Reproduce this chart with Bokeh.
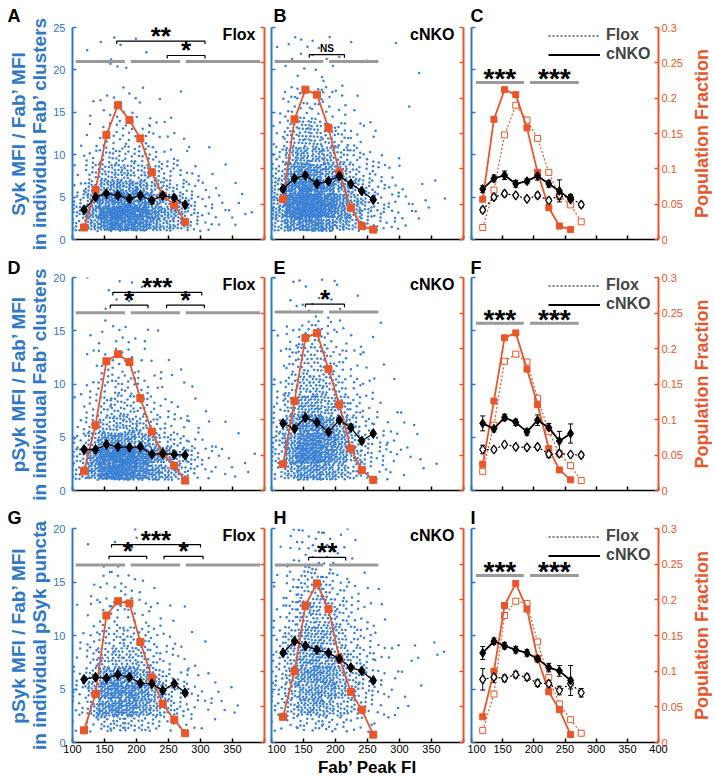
import math
from bokeh.plotting import figure
from bokeh.models import (Range1d, LinearAxis, FixedTicker, Label, Legend, LegendItem,
                          ColumnDataSource, Whisker, TeeHead, Title)
from bokeh.layouts import column, row
from bokeh.embed import file_html
from bokeh.resources import INLINE

# ---------------------------------------------------------------- data
X_TICKS = [100, 150, 200, 250, 300, 350, 400]
FRAC_TICKS = [0, 0.05, 0.1, 0.15, 0.2, 0.25, 0.3]
X_BINS = [118, 136, 153, 171, 189, 206, 224, 241, 259, 276]

# row 1 : Syk MFI / Fab' MFI in Fab' clusters
FRAC_FLOX_1 = [0.017, 0.070, 0.148, 0.190, 0.169, 0.143, 0.095, 0.062, 0.049, 0.025]
FRAC_CNKO_1 = [0.057, 0.170, 0.212, 0.205, 0.158, 0.095, 0.045, 0.019, 0.014]
MEAN_FLOX_1 = [3.5, 5.0, 5.4, 5.2, 4.8, 5.2, 4.6, 5.2, 4.9, 4.1]
MEAN_CNKO_1 = [5.95, 7.2, 7.57, 6.57, 6.88, 7.5, 6.58, 5.73, 4.7]
ERR_FLOX_1 = [0.3, 0.3, 0.3, 0.2, 0.2, 0.3, 0.3, 0.5, 0.4, 0.3]
ERR_CNKO_1 = [0.4, 0.4, 0.5, 0.4, 0.3, 0.5, 0.4, 1.3, 0.5]

# row 2 : pSyk MFI / Fab' MFI in Fab' clusters
FRAC_FLOX_2 = [0.027, 0.092, 0.182, 0.192, 0.181, 0.130, 0.083, 0.052, 0.035, 0.014]
FRAC_CNKO_2 = [0.037, 0.126, 0.215, 0.222, 0.171, 0.121, 0.059, 0.029, 0.015]
MEAN_FLOX_2 = [3.85, 3.85, 4.32, 4.1, 4.04, 4.1, 3.41, 3.47, 3.38, 3.32]
MEAN_CNKO_2 = [6.3, 5.8, 6.85, 6.4, 5.5, 6.6, 5.9, 4.65, 5.35]
ERR_FLOX_2 = [0.4, 0.2, 0.2, 0.2, 0.2, 0.2, 0.3, 0.3, 0.2, 0.2]
ERR_CNKO_2 = [0.7, 0.3, 0.3, 0.3, 0.3, 0.5, 0.4, 0.9, 0.9]

# row 3 : pSyk MFI / Fab' MFI in pSyk puncta
FRAC_FLOX_3 = [0.017, 0.068, 0.178, 0.198, 0.195, 0.141, 0.091, 0.054, 0.032, 0.013]
FRAC_CNKO_3 = [0.036, 0.100, 0.192, 0.223, 0.187, 0.118, 0.071, 0.046, 0.011]
MEAN_FLOX_3 = [5.9, 6.1, 6.0, 6.35, 6.1, 5.55, 5.5, 4.86, 5.5, 4.65]
MEAN_CNKO_3 = [8.37, 9.46, 9.04, 8.66, 8.37, 7.82, 7.0, 6.69, 5.8]
ERR_FLOX_3 = [1.0, 0.5, 0.3, 0.3, 0.3, 0.3, 0.4, 0.4, 0.5, 0.4]
ERR_CNKO_3 = [0.6, 0.3, 0.3, 0.3, 0.3, 0.3, 0.4, 0.5, 1.4]

# scatter clouds: number of clusters read per cell
# (columns: Fab' FI 100-120, 120-140, ... 380-400; rows: the Y edges below)
X_EDGES = [100, 120, 140, 160, 180, 200, 220, 240, 260, 280, 300, 320, 340, 360, 380, 400]
Y_EDGES_1 = [1, 2.5, 4, 5.5, 7, 9, 11, 14, 18, 24]
Y_EDGES_2 = [1, 2.5, 4, 5.5, 7, 9, 11, 13.5, 16, 20]

DENS_A = [
    [10, 11, 7, 4, 2, 1, 1, 0, 0],
    [20, 26, 18, 12, 9, 5, 3, 2, 1],
    [35, 45, 32, 20, 15, 9, 6, 4, 2],
    [45, 58, 40, 26, 19, 11, 8, 5, 4],
    [42, 52, 36, 23, 17, 10, 7, 3, 2],
    [36, 46, 32, 20, 15, 9, 6, 3, 1],
    [25, 31, 22, 14, 10, 6, 4, 2, 0],
    [17, 21, 15, 10, 7, 4, 3, 1, 0],
    [12, 15, 11, 7, 5, 2, 1, 1, 0],
    [7, 9, 6, 4, 3, 1, 0, 0, 0],
    [3, 4, 3, 2, 1, 1, 0, 0, 0],
    [1, 2, 2, 1, 1, 0, 0, 0, 0],
    [1, 2, 1, 1, 0, 0, 0, 0, 0],
    [0, 1, 1, 0, 0, 0, 0, 0, 0],
    [0, 1, 0, 0, 0, 0, 0, 0, 0],
]
DENS_B = [
    [14, 20, 17, 13, 11, 7, 5, 2, 1],
    [30, 46, 44, 36, 32, 21, 18, 9, 4],
    [36, 56, 54, 45, 40, 27, 24, 12, 6],
    [36, 54, 52, 43, 38, 25, 22, 10, 5],
    [28, 42, 41, 34, 30, 20, 18, 8, 4],
    [19, 28, 28, 23, 20, 13, 12, 5, 2],
    [12, 18, 17, 14, 12, 8, 6, 2, 1],
    [8, 11, 10, 8, 7, 4, 3, 0, 1],
    [5, 7, 6, 5, 4, 2, 1, 0, 0],
    [3, 4, 4, 3, 2, 1, 0, 0, 1],
    [1, 2, 2, 1, 1, 0, 0, 1, 0],
    [1, 1, 1, 1, 0, 0, 0, 0, 1],
    [0, 1, 1, 1, 0, 0, 0, 0, 0],
    [0, 0, 1, 0, 0, 0, 0, 0, 0],
    [0, 0, 0, 0, 0, 0, 0, 0, 0],
]
DENS_D = [
    [12, 12, 6, 3, 2, 1, 0, 0, 0],
    [30, 32, 15, 8, 6, 4, 3, 1, 1],
    [55, 60, 30, 15, 12, 8, 5, 3, 2],
    [65, 70, 36, 18, 14, 10, 6, 4, 2],
    [58, 63, 32, 16, 13, 8, 5, 3, 2],
    [45, 50, 25, 13, 10, 6, 3, 2, 1],
    [33, 35, 17, 8, 6, 3, 2, 1, 0],
    [23, 24, 11, 5, 4, 2, 1, 0, 0],
    [15, 16, 7, 3, 2, 1, 1, 0, 0],
    [8, 9, 4, 2, 1, 1, 0, 0, 0],
    [4, 4, 2, 1, 1, 0, 0, 0, 0],
    [2, 2, 1, 1, 0, 0, 0, 0, 0],
    [2, 1, 1, 0, 0, 0, 0, 0, 0],
    [1, 1, 0, 0, 0, 0, 0, 0, 0],
    [0, 1, 0, 0, 0, 0, 0, 0, 0],
]
DENS_E = [
    [7, 11, 10, 8, 6, 4, 2, 1, 1],
    [20, 31, 28, 23, 18, 12, 10, 5, 3],
    [34, 52, 47, 37, 30, 21, 16, 9, 4],
    [35, 54, 49, 39, 31, 21, 17, 10, 4],
    [28, 42, 38, 30, 24, 16, 12, 7, 3],
    [20, 29, 27, 21, 17, 11, 9, 4, 2],
    [11, 16, 15, 11, 9, 6, 4, 2, 1],
    [7, 9, 8, 6, 4, 3, 2, 1, 0],
    [4, 5, 5, 3, 2, 1, 1, 1, 0],
    [2, 3, 3, 2, 1, 1, 0, 0, 0],
    [1, 2, 1, 1, 1, 0, 0, 0, 0],
    [1, 1, 1, 1, 0, 0, 0, 0, 0],
    [0, 1, 0, 0, 0, 0, 0, 0, 0],
    [0, 0, 0, 0, 0, 0, 0, 0, 0],
    [0, 0, 0, 0, 0, 0, 0, 0, 0],
]
DENS_G = [
    [2, 6, 6, 5, 3, 2, 1, 0, 0],
    [5, 15, 17, 13, 9, 5, 3, 2, 1],
    [12, 33, 37, 27, 18, 11, 7, 4, 1],
    [14, 39, 45, 32, 22, 13, 8, 5, 2],
    [13, 37, 42, 31, 20, 12, 8, 5, 2],
    [10, 28, 32, 23, 15, 9, 5, 2, 1],
    [7, 19, 21, 15, 9, 5, 3, 1, 0],
    [4, 12, 13, 9, 5, 3, 2, 0, 0],
    [3, 7, 8, 5, 3, 1, 1, 0, 0],
    [2, 4, 4, 2, 1, 1, 0, 0, 0],
    [1, 3, 2, 1, 0, 1, 0, 0, 0],
    [1, 2, 1, 1, 0, 0, 0, 0, 0],
    [0, 2, 1, 0, 0, 0, 0, 0, 0],
    [0, 0, 0, 0, 0, 0, 0, 0, 0],
    [0, 0, 0, 0, 0, 0, 0, 0, 0],
]
DENS_H = [
    [3, 6, 7, 7, 7, 6, 4, 3, 2],
    [5, 12, 15, 17, 19, 15, 13, 8, 6],
    [8, 21, 26, 29, 32, 26, 23, 15, 10],
    [9, 24, 30, 33, 36, 29, 26, 17, 11],
    [8, 21, 26, 28, 30, 24, 21, 14, 8],
    [6, 15, 18, 20, 20, 16, 13, 8, 4],
    [4, 10, 12, 13, 13, 10, 7, 4, 2],
    [3, 7, 8, 8, 8, 5, 4, 2, 0],
    [1, 3, 4, 4, 3, 2, 2, 1, 0],
    [1, 2, 2, 2, 2, 1, 0, 0, 0],
    [0, 1, 1, 1, 1, 0, 0, 0, 0],
    [0, 0, 1, 0, 1, 1, 0, 0, 0],
    [0, 0, 0, 0, 1, 1, 0, 0, 0],
    [0, 0, 0, 0, 1, 0, 0, 0, 0],
    [0, 0, 0, 0, 0, 0, 0, 0, 0],
]

# significance marks (Fab' FI ranges, y level, label)
GRAY_3 = [[105, 182], [191, 268], [277, 393]]
GRAY_2 = [[105, 181], [190, 267]]
GRAY_R = [[107, 184], [194, 272]]
BRK_A = [[169, 307, 23.4, "**"], [248, 307, 21.7, "*"]]
BRK_B = [[159, 214, 21.8, "NS"]]
BRK_D = [[163, 302, 18.6, "***"], [159, 218, 17.4, "*"], [247, 306, 17.4, "*"]]
BRK_E = [[153, 214, 17.5, "*"]]
BRK_G = [[161, 300, 18.5, "***"], [157, 216, 17.4, "*"], [243, 304, 17.4, "*"]]
BRK_H = [[158, 216, 17.3, "**"]]

YLAB_1 = "Syk MFI / Fab\u2019 MFI\nin individual Fab\u2019 clusters"
YLAB_2 = "pSyk MFI / Fab\u2019 MFI\nin individual Fab\u2019 clusters"
YLAB_3 = "pSyk MFI / Fab\u2019 MFI\nin individual pSyk puncta"

# ---------------------------------------------------------------- style
BLUE = "#2f78c8"
DOT = "#3a80d6"
RED = "#e8562a"
GRAY = "#9a9a9a"
FONT = "Liberation Sans"

FW = [192, 192, 187]
BL = [72, 4, 4]
BR = [3, 4, 26]
FH = [212, 213, 214]
BT = [27, 21, 21]
BB = [16, 15, 30]
LETTER_STANDOFF = [3, 0, 1]


def cloud(dens, yedges):
    """place each read count inside its cell with an even (R2) spread"""
    xs, ys = [], []
    n = 0
    for ci, col in enumerate(dens):
        x0, x1 = X_EDGES[ci], X_EDGES[ci + 1]
        for bi, cnt in enumerate(col):
            y0, y1 = yedges[bi], yedges[bi + 1]
            for _ in range(cnt):
                n += 1
                u = (0.5 + n * 0.7548776662466927) % 1.0
                v = (0.5 + n * 0.5698402909980532) % 1.0
                xs.append(x0 + u * (x1 - x0))
                ys.append(y0 + v * (y1 - y0))
    return xs, ys


def style_axis(ax, color, show, standoff, lw):
    ax.axis_line_color = color
    ax.axis_line_width = lw
    ax.major_tick_line_color = color
    ax.major_tick_line_width = 1.5
    ax.major_tick_in = 4
    ax.major_tick_out = 0
    ax.minor_tick_line_color = None
    ax.major_label_text_font = FONT
    if show:
        ax.major_label_text_color = color
        ax.major_label_text_font_size = "11px"
        ax.major_label_standoff = standoff
    else:
        ax.major_label_text_color = None
        ax.major_label_text_font_size = "1px"
        ax.major_label_standoff = 0


def base_fig(ci, ri, ymax, letter):
    p = figure(frame_width=FW[ci], frame_height=FH[ri],
               min_border_left=BL[ci], min_border_right=BR[ci],
               min_border_top=BT[ri], min_border_bottom=BB[ri],
               x_range=Range1d(100, 400), y_range=Range1d(0, ymax),
               x_axis_type=None, y_axis_type=None,
               output_backend="svg", toolbar_location=None, tools="")
    p.extra_y_ranges = {"frac": Range1d(0, 0.3)}
    p.outline_line_color = None
    p.background_fill_color = "white"
    p.border_fill_color = "white"

    p.title.text = letter
    p.title.align = "left"
    p.title.offset = [-65, 2, -1][ci]
    p.title.standoff = LETTER_STANDOFF[ri]
    p.title.text_font = FONT
    p.title.text_font_style = "bold"
    p.title.text_font_size = "18px"
    p.title.text_color = "black"

    xa = LinearAxis(ticker=FixedTicker(ticks=X_TICKS))
    style_axis(xa, "black", ri == 2, 2, 1.5)
    if ri == 2 and ci < 2:
        xa.major_label_overrides = {400: ""}
    p.add_layout(xa, "below")

    ya = LinearAxis(ticker=FixedTicker(ticks=list(range(0, ymax + 1, 5))))
    style_axis(ya, BLUE, ci == 0, 7, 2)
    p.add_layout(ya, "left")

    ra = LinearAxis(y_range_name="frac", ticker=FixedTicker(ticks=FRAC_TICKS))
    style_axis(ra, RED, ci == 2, 3, 2)
    if ci == 2:
        ra.major_label_overrides = {t: f"{t:g}" for t in FRAC_TICKS}
    p.add_layout(ra, "right")
    return p, xa, ya


def frac_label_fig(ri):
    """narrow strip holding the 'Population Fraction' title, read bottom to top"""
    q = figure(frame_width=1, frame_height=FH[ri], min_border_left=26, min_border_right=0,
               min_border_top=BT[ri], min_border_bottom=BB[ri],
               x_range=Range1d(0, 1), y_range=Range1d(0, 0.3),
               x_axis_type=None, y_axis_type=None,
               output_backend="svg", toolbar_location=None, tools="")
    q.outline_line_color = None
    q.background_fill_color = "white"
    q.border_fill_color = "white"
    ax = LinearAxis(ticker=FixedTicker(ticks=[]))
    ax.axis_line_color = None
    ax.major_tick_line_color = None
    ax.minor_tick_line_color = None
    ax.major_tick_in = 0
    ax.major_tick_out = 0
    ax.major_label_text_color = None
    ax.major_label_text_font_size = "1px"
    ax.major_label_standoff = 0
    ax.axis_label = "Population Fraction"
    ax.axis_label_text_font = FONT
    ax.axis_label_text_font_style = "bold"
    ax.axis_label_text_font_size = "18px"
    ax.axis_label_text_color = RED
    ax.axis_label_standoff = 0
    q.add_layout(ax, "left")
    return q


def star_label(p, x, y, txt, size, dy, font_style="bold"):
    p.add_layout(Label(x=x, y=y, text=txt, text_font=FONT, text_font_style=font_style,
                       text_font_size=size, text_align="center", text_baseline="middle",
                       y_offset=dy, text_color="black"))


def add_brackets(p, brackets, tick_len):
    bx, by = [], []
    for x0, x1, yb, lab in brackets:
        bx.append([x0, x0, x1, x1])
        by.append([yb - tick_len, yb, yb, yb - tick_len])
    p.multi_line(bx, by, line_color="black", line_width=1.2)
    for x0, x1, yb, lab in brackets:
        if lab == "NS":
            star_label(p, (x0 + x1) / 2, yb, lab, "10px", 6)
        else:
            star_label(p, (x0 + x1) / 2, yb, lab, "26px", 5)


def add_gray(p, segs, gy):
    p.multi_line([list(s) for s in segs], [[gy, gy] for _ in segs],
                 line_color=GRAY, line_width=3)


def scatter_panel(ci, ri, ymax, yedges, dens, frac, mean, title, gray_y, gray_segs,
                  brackets, tick_len, letter, ylab=None):
    p, xa, ya = base_fig(ci, ri, ymax, letter)
    xs, ys = cloud(dens, yedges)
    p.scatter(xs, ys, marker="circle", size=2.5, fill_color=DOT, line_color=None)
    add_gray(p, gray_segs, gray_y)
    add_brackets(p, brackets, tick_len)
    xb = X_BINS[:len(frac)]
    p.line(xb, frac, y_range_name="frac", line_color=RED, line_width=1.8)
    p.scatter(xb, frac, y_range_name="frac", marker="square", size=7,
              fill_color=RED, line_color=RED)
    xm = X_BINS[:len(mean)]
    p.line(xm, mean, line_color="black", line_width=1.3)
    p.scatter(xm, mean, marker="diamond", size=10, fill_color="black", line_color="black")
    p.add_layout(Label(x=FW[ci] - 9, y=FH[ri] + 2, x_units="screen", y_units="screen",
                       text=title, text_align="right", text_baseline="top",
                       text_font=FONT, text_font_style="bold", text_font_size="16px",
                       text_color="black"))
    if ylab is not None:
        ya.axis_label = ylab
        ya.axis_label_text_font = FONT
        ya.axis_label_text_font_style = "bold"
        ya.axis_label_text_font_size = "19px"
        ya.axis_label_text_color = BLUE
        ya.axis_label_text_line_height = 1.0
        ya.axis_label_standoff = 0
    return p, xa


def right_panel(ri, ymax, ff, fc, mf, mc, ef, ec, gray_y, letter):
    p, xa, ya = base_fig(2, ri, ymax, letter)
    add_gray(p, GRAY_R, gray_y)
    for a, b in GRAY_R:
        star_label(p, (a + b) / 2, gray_y, "***", "28px", 4)
    xf = X_BINS[:len(ff)]
    xc = X_BINS[:len(fc)]
    p.line(xf, ff, y_range_name="frac", line_color=RED, line_width=1.2, line_dash="2 2")
    p.scatter(xf, ff, y_range_name="frac", marker="square", size=6,
              fill_color="white", line_color=RED, line_width=1)
    p.line(xc, fc, y_range_name="frac", line_color=RED, line_width=1.8)
    p.scatter(xc, fc, y_range_name="frac", marker="square", size=6,
              fill_color=RED, line_color=RED)

    xmf = X_BINS[:len(mf)]
    xmc = X_BINS[:len(mc)]
    rf = p.line(xmf, mf, line_color="black", line_width=1.2, line_dash="2 2")
    sf = ColumnDataSource(dict(x=xmf, up=[m + e for m, e in zip(mf, ef)],
                               lo=[m - e for m, e in zip(mf, ef)]))
    p.add_layout(Whisker(source=sf, base="x", upper="up", lower="lo", line_color="black",
                         line_width=1,
                         upper_head=TeeHead(size=5, line_color="black", line_width=1),
                         lower_head=TeeHead(size=5, line_color="black", line_width=1)))
    p.scatter(xmf, mf, marker="diamond", size=9, fill_color="white", line_color="black",
              line_width=1.3)
    rc = p.line(xmc, mc, line_color="black", line_width=1.8)
    sc = ColumnDataSource(dict(x=xmc, up=[m + e for m, e in zip(mc, ec)],
                               lo=[m - e for m, e in zip(mc, ec)]))
    p.add_layout(Whisker(source=sc, base="x", upper="up", lower="lo", line_color="black",
                         line_width=1,
                         upper_head=TeeHead(size=5, line_color="black", line_width=1),
                         lower_head=TeeHead(size=5, line_color="black", line_width=1)))
    p.scatter(xmc, mc, marker="diamond", size=9, fill_color="black", line_color="black")

    leg = Legend(items=[LegendItem(label="Flox", renderers=[rf]),
                        LegendItem(label="cNKO", renderers=[rc])],
                 location=(FW[2] - 110, FH[ri] - 36), margin=0, padding=0, spacing=1,
                 glyph_width=52, glyph_height=17, label_height=17, label_standoff=6,
                 label_text_font=FONT, label_text_font_style="bold",
                 label_text_font_size="16px", border_line_color=None,
                 background_fill_alpha=0)
    p.add_layout(leg)
    return p


tl1 = 25 / 212 * 3
tl2 = 20 / 213 * 3

pA, _ = scatter_panel(0, 0, 25, Y_EDGES_1, DENS_A, FRAC_FLOX_1, MEAN_FLOX_1, "Flox", 21.0,
                      GRAY_3, BRK_A, tl1, "A", YLAB_1)
pB, _ = scatter_panel(1, 0, 25, Y_EDGES_1, DENS_B, FRAC_CNKO_1, MEAN_CNKO_1, "cNKO", 21.0,
                      GRAY_2, BRK_B, tl1, "B")
pC = right_panel(0, 25, FRAC_FLOX_1, FRAC_CNKO_1, MEAN_FLOX_1, MEAN_CNKO_1,
                 ERR_FLOX_1, ERR_CNKO_1, 18.5, "C")

pD, _ = scatter_panel(0, 1, 20, Y_EDGES_2, DENS_D, FRAC_FLOX_2, MEAN_FLOX_2, "Flox", 16.7,
                      GRAY_3, BRK_D, tl2, "D", YLAB_2)
pE, _ = scatter_panel(1, 1, 20, Y_EDGES_2, DENS_E, FRAC_CNKO_2, MEAN_CNKO_2, "cNKO", 16.75,
                      GRAY_2, BRK_E, tl2, "E")
pF = right_panel(1, 20, FRAC_FLOX_2, FRAC_CNKO_2, MEAN_FLOX_2, MEAN_CNKO_2,
                 ERR_FLOX_2, ERR_CNKO_2, 15.7, "F")

pG, _ = scatter_panel(0, 2, 20, Y_EDGES_2, DENS_G, FRAC_FLOX_3, MEAN_FLOX_3, "Flox", 16.6,
                      GRAY_3, BRK_G, tl2, "G", YLAB_3)
pH, xaH = scatter_panel(1, 2, 20, Y_EDGES_2, DENS_H, FRAC_CNKO_3, MEAN_CNKO_3, "cNKO", 16.6,
                        GRAY_2, BRK_H, tl2, "H")
pI = right_panel(2, 20, FRAC_FLOX_3, FRAC_CNKO_3, MEAN_FLOX_3, MEAN_CNKO_3,
                 ERR_FLOX_3, ERR_CNKO_3, 15.6, "I")

pH.add_layout(Title(text="Fab\u2019 Peak FI", align="center", offset=-15, standoff=0,
                    text_font=FONT, text_font_style="bold", text_font_size="17px",
                    text_color="black"), "below")

layout = column(row(pA, pB, pC, frac_label_fig(0)),
                row(pD, pE, pF, frac_label_fig(1)),
                row(pG, pH, pI, frac_label_fig(2)))

open("out.html", "w").write(file_html(layout, INLINE))
